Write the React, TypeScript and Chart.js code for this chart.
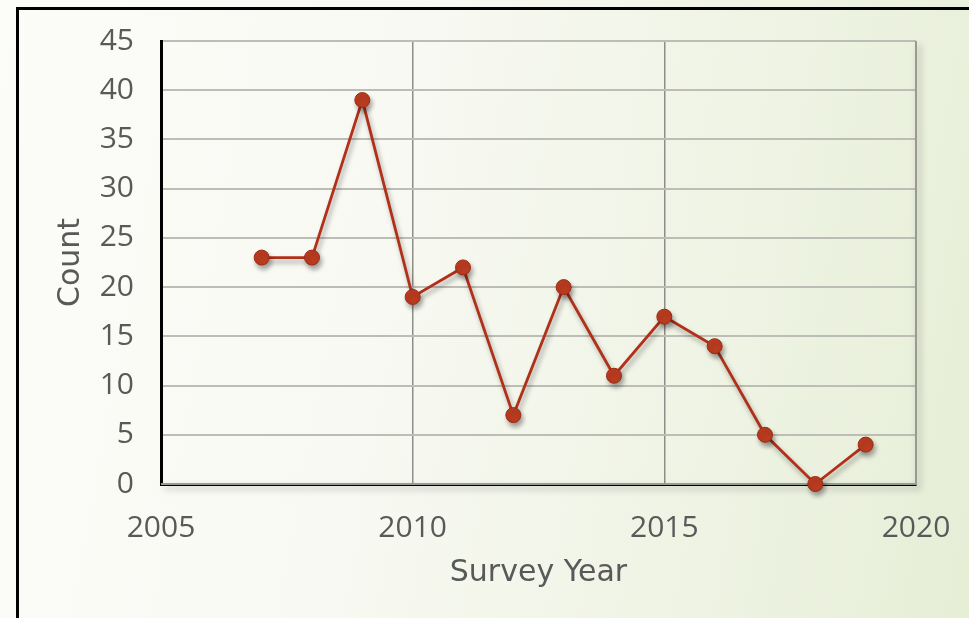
import React, { useEffect, useRef } from "react";
import { Chart, registerables } from "chart.js";

Chart.register(...registerables);

const years = [2007, 2008, 2009, 2010, 2011, 2012, 2013, 2014, 2015, 2016, 2017, 2018, 2019];
const counts = [23, 23, 39, 19, 22, 7, 20, 11, 17, 14, 5, 0, 4];
const xTitle = "Survey Year";
const yTitle = "Count";

const TICK_FONT = "'Open Sans', sans-serif";
const TITLE_FONT = "'DejaVu Sans', sans-serif";

const shadowPlugin = {
  id: "shadows",
  beforeDatasetsDraw(chart: any) {
    const { ctx, chartArea } = chart;
    ctx.save();
    ctx.shadowColor = "rgba(0,0,0,0.35)";
    ctx.shadowBlur = 7;
    ctx.shadowOffsetX = 3;
    ctx.shadowOffsetY = 4;
    ctx.strokeStyle = "#9a9a92";
    ctx.lineWidth = 2;
    ctx.beginPath();
    ctx.moveTo(chartArea.right, chartArea.top);
    ctx.lineTo(chartArea.right, chartArea.bottom);
    ctx.lineTo(chartArea.left, chartArea.bottom);
    ctx.stroke();
    ctx.restore();
    ctx.save();
    ctx.shadowColor = "rgba(0,0,0,0.35)";
    ctx.shadowBlur = 5;
    ctx.shadowOffsetX = 2;
    ctx.shadowOffsetY = 4;
  },
  afterDatasetsDraw(chart: any) {
    chart.ctx.restore();
  },
};

export default function App() {
  const ref = useRef<HTMLCanvasElement>(null);
  useEffect(() => {
    const chart = new Chart(ref.current!, {
      type: "line",
      data: {
        datasets: [
          {
            data: years.map((y, i) => ({ x: y, y: counts[i] })),
            borderColor: "#b1301a",
            borderWidth: 2.8,
            backgroundColor: "#b93a1f",
            pointBackgroundColor: "#bb3c20",
            pointBorderColor: "#9c2a13",
            pointBorderWidth: 1,
            pointRadius: 7.5,
            tension: 0,
            clip: false,
          } as any,
        ],
      },
      plugins: [shadowPlugin],
      options: {
        animation: false,
        responsive: false,
        layout: { padding: { left: 0, top: 41, right: 53, bottom: 0 } },
        plugins: { legend: { display: false }, tooltip: { enabled: false } },
        scales: {
          x: {
            type: "linear",
            min: 2005,
            max: 2020,
            ticks: {
              stepSize: 5,
              color: "#595959",
              font: { family: TICK_FONT, size: 30 },
              padding: 26,
              callback: (v: any) => String(v),
            },
            grid: { color: "#8e8e88", lineWidth: 1.5, drawTicks: false },
            border: { color: "#000", width: 3 },
            title: {
              display: true,
              text: xTitle,
              color: "#595959",
              font: { family: TITLE_FONT, size: 30 },
              padding: { top: 27, bottom: 27 },
            },
            afterFit: (s: any) => {
              s.height = 134;
              s.paddingLeft = 0;
              s.paddingRight = 0;
            },
          },
          y: {
            min: 0,
            max: 45,
            ticks: {
              stepSize: 5,
              color: "#595959",
              font: { family: TICK_FONT, size: 30 },
              padding: 27,
            },
            grid: { color: "#bdbdb6", lineWidth: 2, drawTicks: false },
            border: { color: "#000", width: 3 },
            title: {
              display: true,
              text: yTitle,
              color: "#595959",
              font: { family: TITLE_FONT, size: 30 },
              padding: { top: 53, bottom: 53 },
            },
            afterFit: (s: any) => {
              s.width = 161;
              s.paddingTop = 0;
              s.paddingBottom = 0;
            },
          },
        },
      },
    });
    return () => chart.destroy();
  }, []);
  return (
    <div
      style={{
        position: "fixed",
        left: 0,
        top: 0,
        width: 969,
        height: 618,
        overflow: "hidden",
        background: "linear-gradient(100deg, #fcfcf9 0%, #f8f9f2 40%, #eef3e3 75%, #e6eed6 100%)",
      }}
    >
      <div
        style={{
          position: "absolute",
          left: 16,
          top: 7,
          width: 1100,
          height: 800,
          borderLeft: "3px solid #000",
          borderTop: "3px solid #000",
        }}
      />
      <canvas ref={ref} width={969} height={618} style={{ position: "absolute", left: 0, top: 0 }} />
    </div>
  );
}
